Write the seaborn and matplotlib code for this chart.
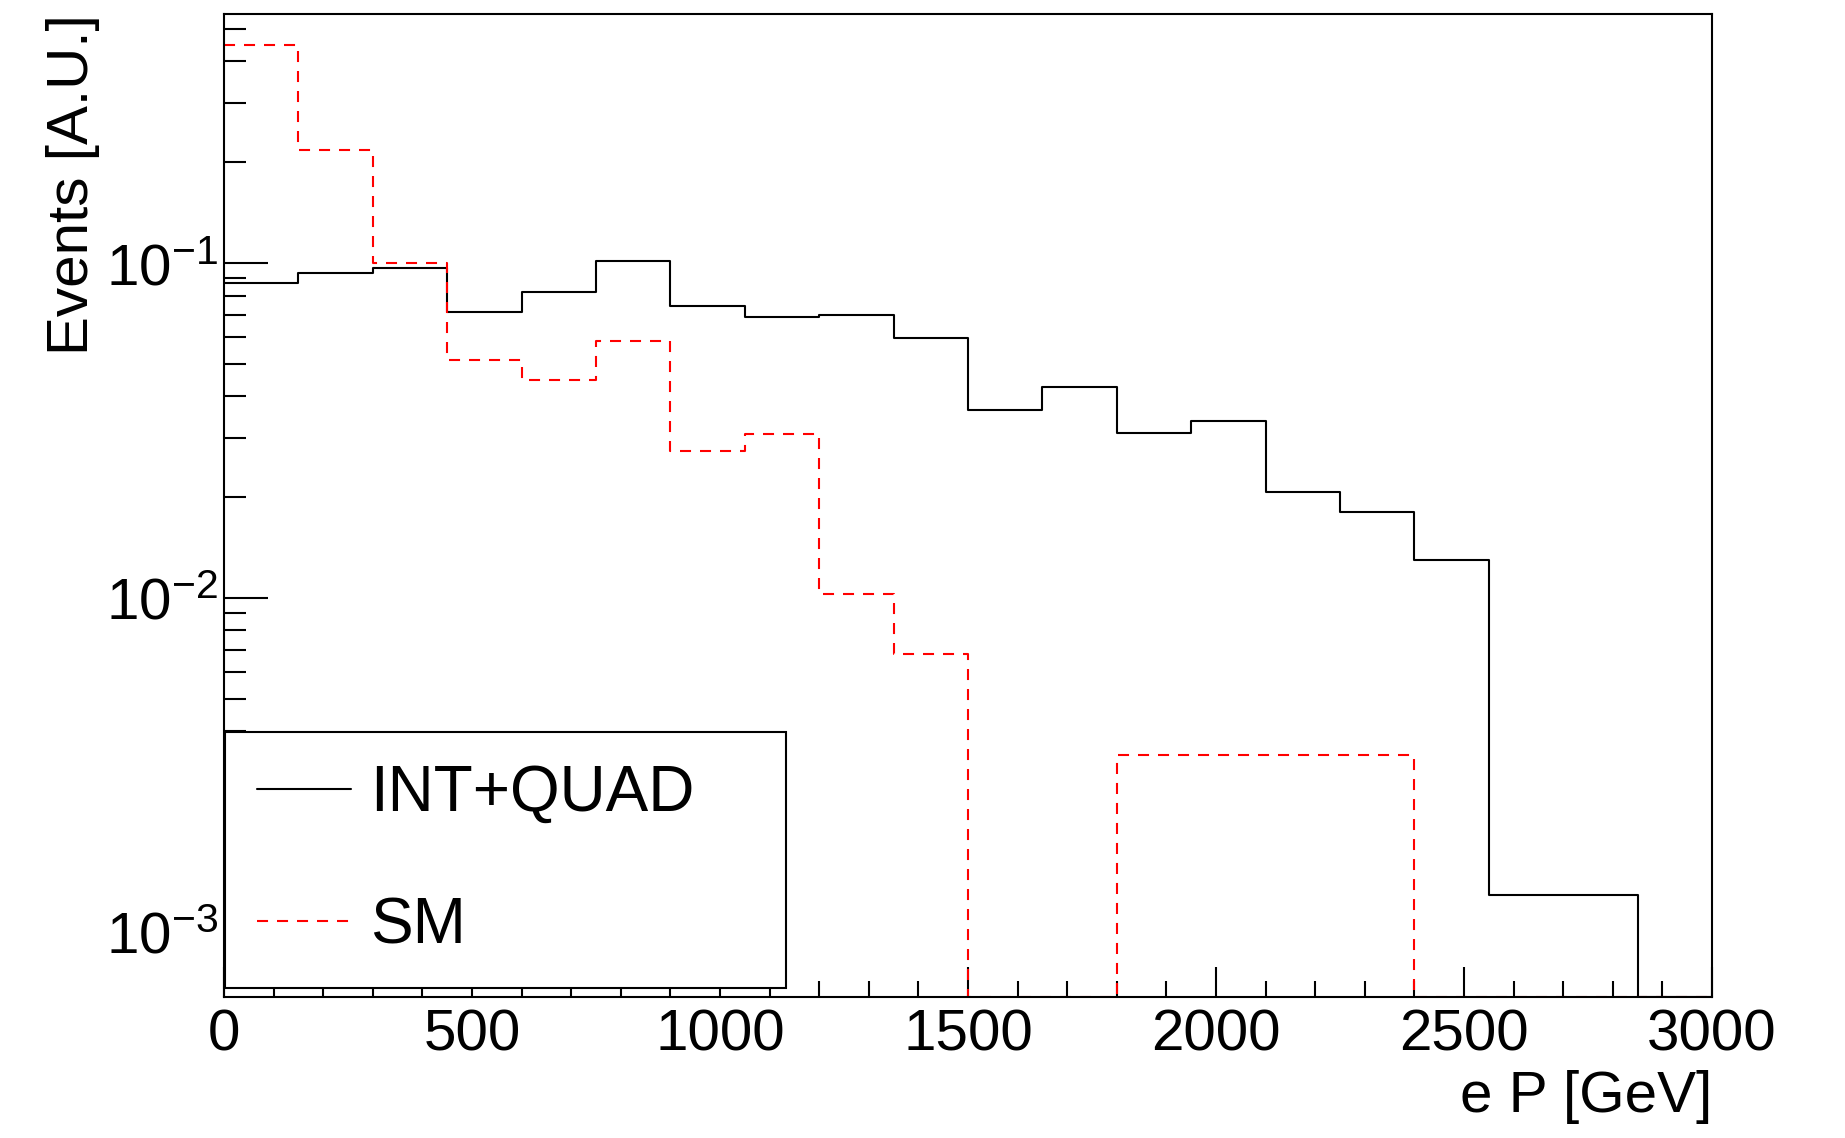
import numpy as np
import pandas as pd
import matplotlib
matplotlib.use("Agg")
import matplotlib.pyplot as plt
from matplotlib.lines import Line2D
from matplotlib.ticker import MultipleLocator, LogLocator, NullFormatter
import seaborn as sns

# bin edges in GeV (150 GeV bins)
bin_edges = [0, 150, 300, 450, 600, 750, 900, 1050, 1200, 1350, 1500,
             1650, 1800, 1950, 2100, 2250, 2400, 2550, 2700, 2850, 3000]

# normalised yields
int_quad = [0.087, 0.0935, 0.0964, 0.0714, 0.0819, 0.1014, 0.0742, 0.0689,
            0.0701, 0.0598, 0.0363, 0.0427, 0.0311, 0.0338, 0.0207, 0.0181,
            0.0130, 0.0013, 0.0013, 0.0]
sm = [0.447, 0.217, 0.0998, 0.0514, 0.0448, 0.0584, 0.0275, 0.0308,
      0.0103, 0.0068, 0.0, 0.0, 0.0034, 0.0034, 0.0034, 0.0034,
      0.0, 0.0, 0.0, 0.0]

labels = ["INT+QUAD", "SM"]

y_min, y_max = 6.44e-4, 0.554
x_min, x_max = 0, 3000


def main():
    sns.set_theme(style="ticks")
    plt.rcParams['font.family'] = ['Liberation Sans', 'DejaVu Sans']
    plt.rcParams['text.color'] = 'black'
    plt.rcParams['mathtext.fontset'] = 'custom'
    plt.rcParams['mathtext.rm'] = 'Liberation Sans'
    plt.rcParams['mathtext.it'] = 'Liberation Sans:italic'
    plt.rcParams['mathtext.bf'] = 'Liberation Sans:bold'

    edges = np.array(bin_edges, dtype=float)
    centers = 0.5 * (edges[:-1] + edges[1:])
    dash = (0, (5.3, 4.3))

    # empty bins sit on the lower edge, like ROOT does on log scale
    df_iq = pd.DataFrame({"e_p": centers, "w": np.clip(int_quad, y_min, None)})
    df_sm = pd.DataFrame({"e_p": centers, "w": np.clip(sm, y_min, None)})

    fig = plt.figure(figsize=(18.45, 11.38), dpi=100)
    ax = fig.add_axes([0.1214, 0.1239, 0.8065, 0.8638])

    sns.histplot(data=df_iq, x="e_p", weights="w", bins=list(bin_edges),
                 element="step", fill=False, color="black", linewidth=1.5, ax=ax)
    sns.histplot(data=df_sm, x="e_p", weights="w", bins=list(bin_edges),
                 element="step", fill=False, color="red", linewidth=1.5,
                 linestyle=dash, ax=ax)

    ax.set_yscale("log")
    ax.set_xlim(x_min, x_max)
    ax.set_ylim(y_min, y_max)

    ax.xaxis.set_major_locator(MultipleLocator(500))
    ax.xaxis.set_minor_locator(MultipleLocator(100))
    ax.yaxis.set_major_locator(LogLocator(base=10))
    ax.yaxis.set_minor_locator(LogLocator(base=10, subs=np.arange(2, 10)))
    ax.yaxis.set_minor_formatter(NullFormatter())

    ax.tick_params(which="both", direction="in", top=False, right=False,
                   color="black", width=1.5, labelsize=42, labelcolor="black")
    ax.tick_params(axis="x", which="major", length=21.6, pad=8)
    ax.tick_params(axis="x", which="minor", length=11.5)
    ax.tick_params(axis="y", which="major", length=31.7, pad=4)
    ax.tick_params(axis="y", which="minor", length=15.8)

    for sp in ax.spines.values():
        sp.set_color("black")
        sp.set_linewidth(1.5)

    ax.set_xlabel("e P [GeV]", fontsize=42, loc="right", color="black")
    ax.set_ylabel("Events [A.U.]", fontsize=42, loc="top", color="black")
    ax.xaxis.set_label_coords(1.0, -0.074)
    ax.yaxis.set_label_coords(-0.083, 1.0)

    handles = [Line2D([], [], color="black", linewidth=1.5),
               Line2D([], [], color="red", linewidth=1.5, linestyle=dash)]
    leg = ax.legend(handles, labels, loc="lower left",
                    bbox_to_anchor=(0.0007, 0.009, 0.377, 0.27), mode="expand",
                    fontsize=46, frameon=True, fancybox=False, shadow=False,
                    edgecolor="black", framealpha=1, borderpad=0.5,
                    labelspacing=1.13, handlelength=1.47, handletextpad=0.3,
                    borderaxespad=0)
    leg.get_frame().set_linewidth(1.5)
    for t in leg.get_texts():
        t.set_color("black")

    fig.savefig("out.png", dpi=100, facecolor="white")


if __name__ == '__main__':
    main()
